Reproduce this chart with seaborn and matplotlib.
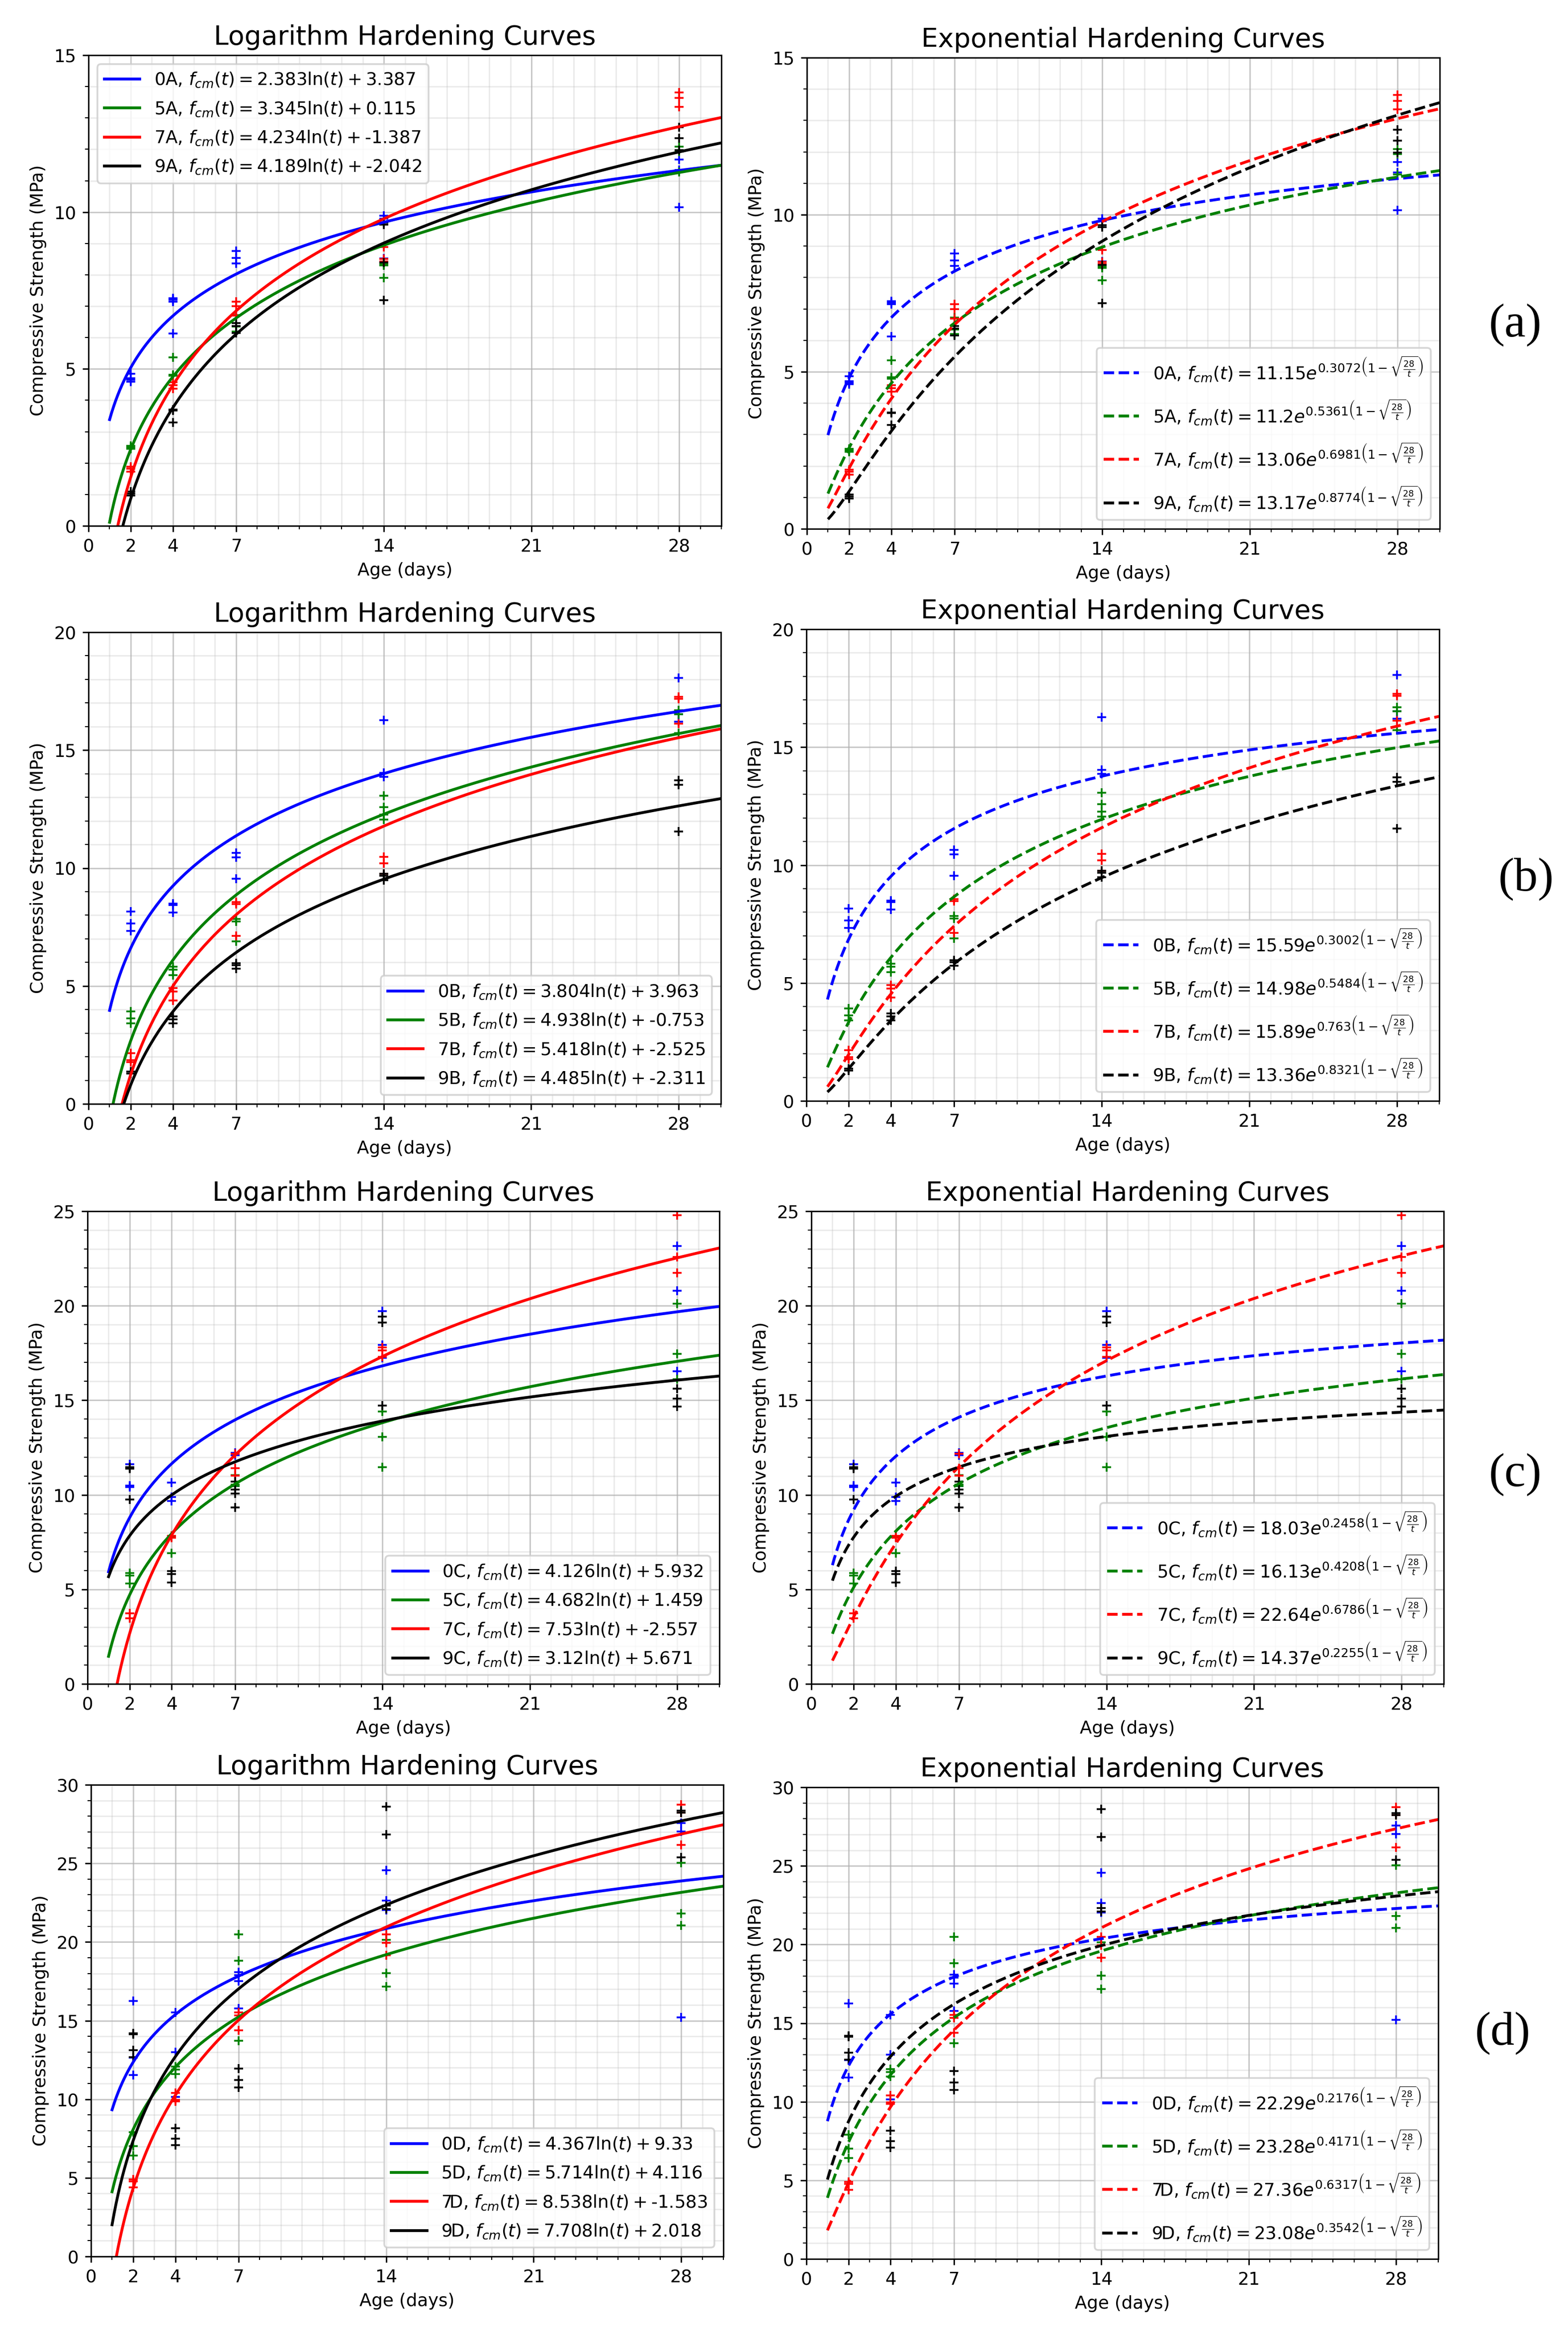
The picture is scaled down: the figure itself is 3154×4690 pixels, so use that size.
# -*- coding: utf-8 -*-
import numpy as np
import pandas as pd
import matplotlib
matplotlib.use("Agg")
import matplotlib.pyplot as plt
import seaborn as sns

ages = [2, 4, 7, 14, 28]
mix_names = ["0", "5", "7", "9"]
mix_colors = ["blue", "green", "red", "black"]
xticks = [0, 2, 4, 7, 14, 21, 28]

# measured strengths, one list per age (2, 4, 7, 14, 28 days)
a_0 = [[4.85, 4.7, 4.65, 4.6], [7.25, 7.2, 7.15, 6.13], [8.76, 8.54, 8.37], [9.88, 9.79, 8.52], [11.67, 11.34, 10.15]]
a_5 = [[2.55, 2.5, 2.45], [5.37, 4.82, 4.78], [6.72, 6.35, 6.2], [8.35, 8.3, 7.91], [12.09, 11.93, 11.28]]
a_7 = [[1.89, 1.82, 1.73], [4.58, 4.48, 4.37], [7.15, 7.0, 6.7], [8.88, 8.5, 8.43], [13.81, 13.63, 13.36]]
a_9 = [[1.09, 1.03, 0.97], [3.71, 3.68, 3.3], [6.46, 6.37, 6.15], [9.67, 9.6, 8.4, 7.19], [12.7, 12.36, 11.97]]

b_0 = [[8.15, 7.66, 7.34], [8.5, 8.42, 8.11], [10.65, 10.45, 9.55], [16.26, 14.03, 13.87], [18.06, 16.53, 16.21]]
b_5 = [[3.92, 3.63, 3.42], [5.81, 5.68, 5.45], [7.85, 7.74, 6.89], [13.06, 12.58, 12.26, 12.06], [16.69, 16.53, 15.73]]
b_7 = [[2.15, 1.85, 1.77], [4.92, 4.76, 4.39], [8.55, 8.47, 7.13], [10.48, 10.19, 9.76], [17.26, 17.18, 16.13]]
b_9 = [[1.37, 1.29], [3.71, 3.58, 3.42], [5.97, 5.89, 5.73], [9.76, 9.68, 9.48], [13.71, 13.52, 11.55]]

c_0 = [[11.61, 10.49, 10.41], [10.65, 9.88, 9.68], [12.22, 12.1, 10.45], [19.71, 17.94, 17.25], [23.17, 20.79, 16.53]]
c_5 = [[5.86, 5.72, 5.31], [7.77, 6.92], [11.05, 10.55, 10.45], [14.41, 13.06, 11.45], [20.11, 17.45, 16.12]]
c_7 = [[3.74, 3.46], [7.83, 7.73], [12.16, 11.41, 11.01], [17.79, 17.65, 17.29], [24.78, 22.58, 21.74]]
c_9 = [[11.45, 11.39, 9.74], [5.98, 5.82, 5.37], [10.69, 10.29, 10.08, 9.34], [19.44, 19.1, 14.71], [15.62, 15.08, 14.67]]

d_0 = [[16.26, 12.63, 11.54], [15.53, 12.99, 10.16], [18.07, 17.9, 17.52, 15.78], [24.56, 22.62, 22.02], [27.58, 27.03, 15.22]]
d_5 = [[7.91, 7.02, 6.41], [12.07, 11.9, 11.59], [20.49, 18.8, 13.72], [20.13, 18.03, 17.18], [25.04, 21.82, 21.05]]
d_7 = [[4.89, 4.77, 4.4], [10.4, 9.97, 9.85], [15.53, 15.34, 14.37], [20.49, 19.94, 19.16], [28.72, 28.24, 26.18]]
d_9 = [[14.2, 14.13, 13.11, 12.68], [8.15, 7.48, 7.07], [11.95, 11.23, 10.74], [28.6, 26.83, 22.31, 22.11], [28.36, 28.24, 25.38]]

# fit coefficients as printed in the legends
a_log = [(2.383, 3.387), (3.345, 0.115), (4.234, -1.387), (4.189, -2.042)]
b_log = [(3.804, 3.963), (4.938, -0.753), (5.418, -2.525), (4.485, -2.311)]
c_log = [(4.126, 5.932), (4.682, 1.459), (7.53, -2.557), (3.12, 5.671)]
d_log = [(4.367, 9.33), (5.714, 4.116), (8.538, -1.583), (7.708, 2.018)]

a_exp = [("11.15", "0.3072"), ("11.2", "0.5361"), ("13.06", "0.6981"), ("13.17", "0.8774")]
b_exp = [("15.59", "0.3002"), ("14.98", "0.5484"), ("15.89", "0.763"), ("13.36", "0.8321")]
c_exp = [("18.03", "0.2458"), ("16.13", "0.4208"), ("22.64", "0.6786"), ("14.37", "0.2255")]
d_exp = [("22.29", "0.2176"), ("23.28", "0.4171"), ("27.36", "0.6317"), ("23.08", "0.3542")]

W, H = 3154, 4690
DPI = 256

# axes boxes in pixels: left, right, top, bottom
log_boxes = [(178, 1451, 111, 1058), (178, 1450, 1272, 2221), (176, 1447, 2437, 3388), (183, 1455, 3591, 4540)]
exp_boxes = [(1623, 2896, 116, 1064), (1622, 2895, 1266, 2215), (1632, 2904, 2437, 3388), (1622, 2893, 3596, 4545)]
ymax = [15, 20, 25, 30]
log_legend = ["upper left", "lower right", "lower right", "lower right"]
tags = ["(a)", "(b)", "(c)", "(d)"]
tag_pos = [(3048, 654), (3070, 1769), (3048, 2967), (3023, 4091)]

t = np.linspace(1, 30, 300)


def add_axes(fig, box):
    left, right, top, bottom = box
    return fig.add_axes([left / W, 1 - bottom / H, (right - left) / W, (bottom - top) / H])


def dress(ax, title, top):
    ax.set_xlim(0, 30)
    ax.set_ylim(0, top)
    ax.set_xticks(xticks)
    ax.set_xticks(np.arange(0, 31), minor=True)
    ax.set_yticks(np.arange(0, top + 1, 5))
    ax.set_yticks(np.arange(0, top + 1), minor=True)
    ax.grid(which="major", alpha=0.7)
    ax.grid(which="minor", alpha=0.25)
    ax.set_axisbelow(True)
    ax.set_title(title, fontsize=15)
    ax.set_xlabel("Age (days)")
    ax.set_ylabel("Compressive Strength (MPa)")


def draw_points(ax, groups):
    for values, color in zip(groups, mix_colors):
        df = pd.DataFrame([(age, v) for age, vals in zip(ages, values) for v in vals], columns=["age", "mpa"])
        sns.scatterplot(data=df, x="age", y="mpa", marker="+", color=color, s=25, linewidth=1, ax=ax, legend=False)


def log_label(name, k, c):
    # negative offsets were printed with a plain hyphen after the plus sign
    if c < 0:
        return f"{name}, $f_{{cm}}(t) = {k}\\ln(t) +$ {c}".replace("$ -", "$-")
    return f"{name}, $f_{{cm}}(t) = {k}\\ln(t) + {c}$"


fig = plt.figure(figsize=(W / DPI, H / DPI), dpi=DPI)

all_points = [[a_0, a_5, a_7, a_9], [b_0, b_5, b_7, b_9], [c_0, c_5, c_7, c_9], [d_0, d_5, d_7, d_9]]
all_log = [a_log, b_log, c_log, d_log]
all_exp = [a_exp, b_exp, c_exp, d_exp]
letters = "ABCD"

for i in range(4):
    # Logarithm panel, curves come from the printed fit coefficients
    ax = add_axes(fig, log_boxes[i])
    draw_points(ax, all_points[i])
    for mix, color, (k, c) in zip(mix_names, mix_colors, all_log[i]):
        sns.lineplot(x=t, y=k * np.log(t) + c, color=color, linewidth=1.6, label=log_label(mix + letters[i], k, c), estimator=None, ax=ax)
    dress(ax, "Logarithm Hardening Curves", ymax[i])
    ax.legend(loc=log_legend[i], labelspacing=0.62)

    # Exponential panel
    ax = add_axes(fig, exp_boxes[i])
    draw_points(ax, all_points[i])
    for mix, color, (f28, s) in zip(mix_names, mix_colors, all_exp[i]):
        label = f"{mix}{letters[i]}, $f_{{cm}}(t) = {f28}e^{{{s}\\left(1 - \\sqrt{{\\frac{{28}}{{t}}}}\\right)}}$"
        y = float(f28) * np.exp(float(s) * (1 - np.sqrt(28 / t)))
        sns.lineplot(x=t, y=y, color=color, linewidth=1.6, linestyle="--", label=label, estimator=None, ax=ax)
    dress(ax, "Exponential Hardening Curves", ymax[i])
    ax.legend(loc="lower right", labelspacing=0.85)

    x, y = tag_pos[i]
    fig.text(x / W, 1 - y / H, tags[i], family="Liberation Serif", fontsize=27, ha="center", va="center")

fig.savefig("out.png", dpi=DPI)
